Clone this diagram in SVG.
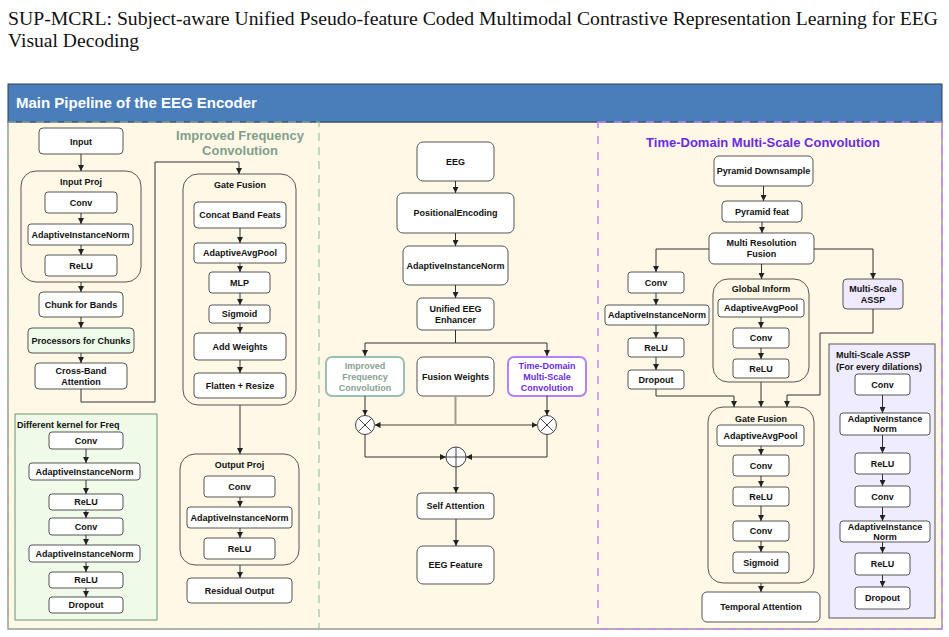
<svg xmlns="http://www.w3.org/2000/svg" width="949" height="637" viewBox="0 0 949 637">
<defs>
<marker id="ah" viewBox="0 0 6 6" refX="6" refY="3" markerWidth="6" markerHeight="6" markerUnits="userSpaceOnUse" orient="auto">
<path d="M0,0 L6,3 L0,6 z" fill="#222"/>
</marker>
<style>
.box{fill:#fff;stroke:#555;stroke-width:1}
.grp{fill:none;stroke:#555;stroke-width:1}
.t{font-family:"Liberation Sans",Arial,sans-serif;font-weight:bold;font-size:9px;text-anchor:middle;fill:#111}
.tl{font-family:"Liberation Sans",Arial,sans-serif;font-weight:bold;font-size:9px;fill:#111}
.c{fill:none;stroke:#333;stroke-width:1}
.ca{fill:none;stroke:#333;stroke-width:1;marker-end:url(#ah)}
.cw{fill:none;stroke:#a39a8c;stroke-width:2}
.cwa{fill:none;stroke:#a39a8c;stroke-width:2;marker-end:url(#ah)}
</style>
</defs>
<rect width="949" height="637" fill="#fff"/>
<text x="8" y="25" font-family="Liberation Serif, Times New Roman, serif" font-size="19.5" fill="#111" textLength="930" lengthAdjust="spacingAndGlyphs">SUP-MCRL: Subject-aware Unified Pseudo-feature Coded Multimodal Contrastive Representation Learning for EEG</text>
<text x="8" y="47" font-family="Liberation Serif, Times New Roman, serif" font-size="19.5" fill="#111" textLength="131" lengthAdjust="spacingAndGlyphs">Visual Decoding</text>

<g id="frame">
<rect x="8" y="122" width="934" height="507" fill="#fff8e6" stroke="#9e9890" stroke-width="1.5"/>
<rect x="8" y="84" width="934" height="38" fill="#4a7ebb" stroke="#2c3e55" stroke-width="1"/>
<text x="16" y="108" font-family="Liberation Sans, Arial, sans-serif" font-weight="bold" font-size="15" fill="#fff">Main Pipeline of the EEG Encoder</text>
<rect x="8" y="122" width="311" height="507" fill="none" stroke="#9cc4ac" stroke-width="1.2" stroke-dasharray="8,6"/>
<rect x="598" y="122" width="344" height="507" fill="none" stroke="#c08af8" stroke-width="1.5" stroke-dasharray="8,8"/>
</g>

<!-- Left panel -->
<g id="ifc-title">
<text x="240" y="140" font-family="Liberation Sans, Arial, sans-serif" font-weight="bold" font-size="13" text-anchor="middle" fill="#7f9f8c">Improved Frequency</text>
<text x="240" y="155" font-family="Liberation Sans, Arial, sans-serif" font-weight="bold" font-size="13" text-anchor="middle" fill="#7f9f8c">Convolution</text>
</g>
<g id="input"><rect class="box" x="39" y="128" width="84" height="26" rx="4"/><text class="t" x="81" y="144.5">Input</text></g>
<g id="input-proj"><rect class="grp" x="21" y="171" width="120" height="111" rx="15"/><text class="t" x="81" y="185">Input Proj</text></g>
<g id="ip-conv"><rect class="box" x="45" y="192" width="72" height="21" rx="3"/><text class="t" x="81" y="205.5">Conv</text></g>
<g id="ip-ain"><rect class="box" x="28" y="224" width="105" height="21" rx="3"/><text class="t" x="80.5" y="237.5">AdaptiveInstanceNorm</text></g>
<g id="ip-relu"><rect class="box" x="45" y="255" width="72" height="21" rx="3"/><text class="t" x="81" y="268.5">ReLU</text></g>
<g id="chunk"><rect class="box" x="39" y="292" width="84" height="25" rx="4"/><text class="t" x="81" y="307.5">Chunk for Bands</text></g>
<g id="processors"><rect class="box" x="28" y="328" width="106" height="25" rx="4" style="fill:#eefaea"/><text class="t" x="81" y="343.5">Processors for Chunks</text></g>
<g id="crossband"><rect class="box" x="35" y="363" width="92" height="26" rx="4"/><text class="t" x="81" y="374">Cross-Band</text><text class="t" x="81" y="385">Attention</text></g>
<g id="gate-fusion-l"><rect class="grp" x="183" y="174" width="113" height="231" rx="15"/><text class="t" x="240" y="188">Gate Fusion</text></g>
<g id="concat"><rect class="box" x="194" y="202" width="92" height="26" rx="4"/><text class="t" x="240" y="218">Concat Band Feats</text></g>
<g id="gl-pool"><rect class="box" x="194" y="243" width="92" height="20" rx="3"/><text class="t" x="240" y="256">AdaptiveAvgPool</text></g>
<g id="mlp"><rect class="box" x="209" y="272" width="61" height="21" rx="3"/><text class="t" x="239.5" y="285.5">MLP</text></g>
<g id="gl-sigmoid"><rect class="box" x="209" y="305" width="61" height="18" rx="3"/><text class="t" x="239.5" y="317">Sigmoid</text></g>
<g id="addw"><rect class="box" x="194" y="333" width="92" height="27" rx="4"/><text class="t" x="240" y="349.5">Add Weights</text></g>
<g id="flatten"><rect class="box" x="194" y="373" width="92" height="25" rx="4"/><text class="t" x="240" y="388.5">Flatten + Resize</text></g>
<g id="output-proj"><rect class="grp" x="180" y="454" width="119" height="111" rx="15"/><text class="t" x="239.5" y="468">Output Proj</text></g>
<g id="op-conv"><rect class="box" x="204" y="476" width="71" height="21" rx="3"/><text class="t" x="239.5" y="489.5">Conv</text></g>
<g id="op-ain"><rect class="box" x="187" y="507" width="105" height="21" rx="3"/><text class="t" x="239.5" y="520.5">AdaptiveInstanceNorm</text></g>
<g id="op-relu"><rect class="box" x="204" y="538" width="71" height="21" rx="3"/><text class="t" x="239.5" y="551.5">ReLU</text></g>
<g id="residual"><rect class="box" x="187" y="578" width="105" height="25" rx="4"/><text class="t" x="239.5" y="593.5">Residual Output</text></g>
<g id="diff-kernel"><rect x="15" y="414" width="142" height="206" fill="#effae8" stroke="#6f8f70" stroke-width="1"/><text class="tl" x="17" y="428">Different kernel for Freq</text></g>
<g id="dk-conv1"><rect class="box" x="49" y="432" width="74" height="17" rx="3"/><text class="t" x="86" y="443.5">Conv</text></g>
<g id="dk-ain1"><rect class="box" x="29" y="463" width="111" height="17" rx="3"/><text class="t" x="84.5" y="474.5">AdaptiveInstanceNorm</text></g>
<g id="dk-relu1"><rect class="box" x="49" y="494" width="74" height="16" rx="3"/><text class="t" x="86" y="505">ReLU</text></g>
<g id="dk-conv2"><rect class="box" x="49" y="518" width="74" height="17" rx="3"/><text class="t" x="86" y="529.5">Conv</text></g>
<g id="dk-ain2"><rect class="box" x="29" y="545" width="111" height="17" rx="3"/><text class="t" x="84.5" y="556.5">AdaptiveInstanceNorm</text></g>
<g id="dk-relu2"><rect class="box" x="49" y="572" width="74" height="16" rx="3"/><text class="t" x="86" y="583">ReLU</text></g>
<g id="dk-dropout"><rect class="box" x="49" y="597" width="74" height="16" rx="3"/><text class="t" x="86" y="608">Dropout</text></g>

<!-- Middle -->
<g id="eeg"><rect class="box" x="417" y="142" width="77" height="39" rx="6"/><text class="t" x="455.5" y="164.5">EEG</text></g>
<g id="posenc"><rect class="box" x="397" y="193" width="117" height="40" rx="6"/><text class="t" x="455.5" y="216">PositionalEncoding</text></g>
<g id="m-ain"><rect class="box" x="403" y="246" width="105" height="39" rx="6"/><text class="t" x="455.5" y="268.5">AdaptiveInstanceNorm</text></g>
<g id="enhancer"><rect class="box" x="417" y="298" width="77" height="32" rx="5"/><text class="t" x="455.5" y="312">Unified EEG</text><text class="t" x="455.5" y="323">Enhancer</text></g>
<g id="ifc-box"><rect x="326" y="357" width="78" height="39" rx="6" fill="#fff" stroke="#9cc0b0" stroke-width="2"/><text class="t" x="365" y="369" style="fill:#8aa094">Improved</text><text class="t" x="365" y="380" style="fill:#8aa094">Frequency</text><text class="t" x="365" y="391" style="fill:#8aa094">Convolution</text></g>
<g id="fusionw"><rect class="box" x="417" y="357" width="77" height="39" rx="6"/><text class="t" x="455.5" y="379.5">Fusion Weights</text></g>
<g id="tdc-box"><rect x="508" y="357" width="78" height="39" rx="6" fill="#fff" stroke="#b780f6" stroke-width="2"/><text class="t" x="547" y="369" style="fill:#6a2be0">Time-Domain</text><text class="t" x="547" y="380" style="fill:#6a2be0">Multi-Scale</text><text class="t" x="547" y="391" style="fill:#6a2be0">Convolution</text></g>
<g id="mul-l"><circle cx="365" cy="425" r="9.5" fill="#fff" stroke="#444"/><path d="M358.3,418.3 L371.7,431.7 M371.7,418.3 L358.3,431.7" stroke="#444" stroke-width="1"/></g>
<g id="mul-r"><circle cx="547" cy="425" r="9.5" fill="#fff" stroke="#444"/><path d="M540.3,418.3 L553.7,431.7 M553.7,418.3 L540.3,431.7" stroke="#444" stroke-width="1"/></g>
<g id="plus"><circle cx="456" cy="457" r="10" fill="#fff" stroke="#444"/><path d="M446,457 H466 M456,447 V467" stroke="#444" stroke-width="1"/></g>
<g id="selfatt"><rect class="box" x="417" y="493" width="77" height="26" rx="4"/><text class="t" x="455.5" y="509">Self Attention</text></g>
<g id="eegfeat"><rect class="box" x="417" y="546" width="77" height="38" rx="6"/><text class="t" x="455.5" y="568">EEG Feature</text></g>

<!-- Right -->
<g id="tdc-title"><text x="763" y="147" font-family="Liberation Sans, Arial, sans-serif" font-weight="bold" font-size="13" text-anchor="middle" fill="#6a2be0">Time-Domain Multi-Scale Convolution</text></g>
<g id="pyr-down"><rect class="box" x="714" y="156" width="99" height="30" rx="5"/><text class="t" x="763.5" y="174">Pyramid Downsample</text></g>
<g id="pyr-feat"><rect class="box" x="722" y="201" width="80" height="21" rx="4"/><text class="t" x="762" y="214.5">Pyramid feat</text></g>
<g id="multires"><rect class="box" x="709" y="233" width="105" height="31" rx="5"/><text class="t" x="761.5" y="246">Multi Resolution</text><text class="t" x="761.5" y="257">Fusion</text></g>
<g id="r-conv"><rect class="box" x="628" y="272" width="56" height="21" rx="3"/><text class="t" x="656" y="285.5">Conv</text></g>
<g id="r-ain"><rect class="box" x="605" y="305" width="104" height="20" rx="3"/><text class="t" x="657" y="318">AdaptiveInstanceNorm</text></g>
<g id="r-relu"><rect class="box" x="628" y="338" width="56" height="19" rx="3"/><text class="t" x="656" y="350.5">ReLU</text></g>
<g id="r-dropout"><rect class="box" x="628" y="370" width="56" height="19" rx="3"/><text class="t" x="656" y="382.5">Dropout</text></g>
<g id="global"><rect class="grp" x="713" y="279" width="96" height="103" rx="15"/><text class="t" x="761" y="292">Global Inform</text></g>
<g id="gi-pool"><rect class="box" x="718" y="299" width="86" height="18" rx="3"/><text class="t" x="761" y="311">AdaptiveAvgPool</text></g>
<g id="gi-conv"><rect class="box" x="733" y="328" width="56" height="20" rx="3"/><text class="t" x="761" y="341">Conv</text></g>
<g id="gi-relu"><rect class="box" x="733" y="359" width="56" height="19" rx="3"/><text class="t" x="761" y="371.5">ReLU</text></g>
<g id="assp-node"><rect class="box" x="843" y="279" width="60" height="30" rx="4" style="fill:#efeaff"/><text class="t" x="873" y="292">Multi-Scale</text><text class="t" x="873" y="303">ASSP</text></g>
<g id="gate-fusion-r"><rect class="grp" x="708" y="407" width="106" height="176" rx="15"/><text class="t" x="761" y="422">Gate Fusion</text></g>
<g id="gr-pool"><rect class="box" x="717" y="425" width="87" height="21" rx="3"/><text class="t" x="760.5" y="438.5">AdaptiveAvgPool</text></g>
<g id="gr-conv1"><rect class="box" x="733" y="455" width="56" height="21" rx="3"/><text class="t" x="761" y="468.5">Conv</text></g>
<g id="gr-relu"><rect class="box" x="733" y="487" width="56" height="19" rx="3"/><text class="t" x="761" y="499.5">ReLU</text></g>
<g id="gr-conv2"><rect class="box" x="733" y="521" width="56" height="20" rx="3"/><text class="t" x="761" y="534">Conv</text></g>
<g id="gr-sigmoid"><rect class="box" x="733" y="552" width="56" height="21" rx="3"/><text class="t" x="761" y="565.5">Sigmoid</text></g>
<g id="temporal"><rect class="box" x="702" y="592" width="118" height="30" rx="5"/><text class="t" x="761" y="610">Temporal Attention</text></g>
<g id="assp-detail"><rect x="829" y="344" width="106" height="274" fill="#f0ecff" stroke="#555" stroke-width="1"/><text class="tl" x="836" y="358">Multi-Scale ASSP</text><text class="tl" x="836" y="370">(For every dilations)</text></g>
<g id="as-conv1"><rect class="box" x="855" y="374" width="55" height="21" rx="3"/><text class="t" x="882.5" y="387.5">Conv</text></g>
<g id="as-ain1"><rect class="box" x="840" y="413" width="90" height="22" rx="3"/><text class="t" x="885" y="422">AdaptiveInstance</text><text class="t" x="885" y="432">Norm</text></g>
<g id="as-relu1"><rect class="box" x="855" y="453" width="55" height="21" rx="3"/><text class="t" x="882.5" y="466.5">ReLU</text></g>
<g id="as-conv2"><rect class="box" x="855" y="486" width="55" height="21" rx="3"/><text class="t" x="882.5" y="499.5">Conv</text></g>
<g id="as-ain2"><rect class="box" x="840" y="521" width="90" height="21" rx="3"/><text class="t" x="885" y="530">AdaptiveInstance</text><text class="t" x="885" y="540">Norm</text></g>
<g id="as-relu2"><rect class="box" x="855" y="553" width="55" height="22" rx="3"/><text class="t" x="882.5" y="567">ReLU</text></g>
<g id="as-dropout"><rect class="box" x="855" y="587" width="55" height="22" rx="3"/><text class="t" x="882.5" y="601">Dropout</text></g>

<g id="connectors">
<path class="ca" d="M81,154 V171"/>
<path class="ca" d="M81,213 V224"/>
<path class="ca" d="M81,245 V255"/>
<path class="ca" d="M81,282 V292"/>
<path class="ca" d="M81,317 V328"/>
<path class="ca" d="M81,353 V363"/>
<path class="ca" d="M81,389 V402 H155 V162 H239 V174"/>
<path class="ca" d="M240,228 V243"/>
<path class="ca" d="M240,263 V272"/>
<path class="ca" d="M240,293 V305"/>
<path class="ca" d="M240,323 V333"/>
<path class="ca" d="M240,360 V373"/>
<path class="ca" d="M240,405 V454"/>
<path class="ca" d="M240,497 V507"/>
<path class="ca" d="M240,528 V538"/>
<path class="ca" d="M240,565 V578"/>
<path class="ca" d="M86,449 V463"/>
<path class="ca" d="M86,480 V494"/>
<path class="ca" d="M86,510 V518"/>
<path class="ca" d="M86,535 V545"/>
<path class="ca" d="M86,562 V572"/>
<path class="ca" d="M86,588 V597"/>

<path class="ca" d="M455.5,181 V193"/>
<path class="ca" d="M455.5,233 V246"/>
<path class="ca" d="M455.5,285 V298"/>
<path class="c" d="M455.5,330 V343"/>
<path class="ca" d="M455.5,343 H365 V356"/>
<path class="ca" d="M455.5,343 H547 V356"/>
<path class="ca" d="M365,396 V415.5"/>
<path class="ca" d="M547,396 V415.5"/>
<path class="cw" d="M455.5,396 V425"/>
<path class="cwa" d="M455.5,425 H374.5"/>
<path class="cwa" d="M455.5,425 H537.5"/>
<path class="ca" d="M365,434.5 V457 H446"/>
<path class="ca" d="M547,434.5 V457 H466"/>
<path class="ca" d="M456,467 V493"/>
<path class="ca" d="M456,519 V546"/>

<path class="ca" d="M763.5,186 V201"/>
<path class="ca" d="M762,222 V233"/>
<path class="ca" d="M709,249 H656 V272"/>
<path class="ca" d="M814,249 H873 V279"/>
<path class="ca" d="M761.5,264 V279"/>
<path class="ca" d="M656,293 V305"/>
<path class="ca" d="M656,325 V338"/>
<path class="ca" d="M656,357 V370"/>
<path class="ca" d="M761,317 V328"/>
<path class="ca" d="M761,348 V359"/>
<path class="ca" d="M656,389 V396 H734 V407"/>
<path class="ca" d="M761,382 V407"/>
<path class="ca" d="M873,309 V333 H820 V395 H787 V407"/>
<path class="ca" d="M761,446 V455"/>
<path class="ca" d="M761,476 V487"/>
<path class="ca" d="M761,506 V521"/>
<path class="ca" d="M761,541 V552"/>
<path class="ca" d="M761,583 V592"/>
<path class="ca" d="M882.5,395 V413"/>
<path class="ca" d="M882.5,435 V453"/>
<path class="ca" d="M882.5,474 V486"/>
<path class="ca" d="M882.5,507 V521"/>
<path class="ca" d="M882.5,542 V553"/>
<path class="ca" d="M882.5,575 V587"/>
</g>
</svg>
